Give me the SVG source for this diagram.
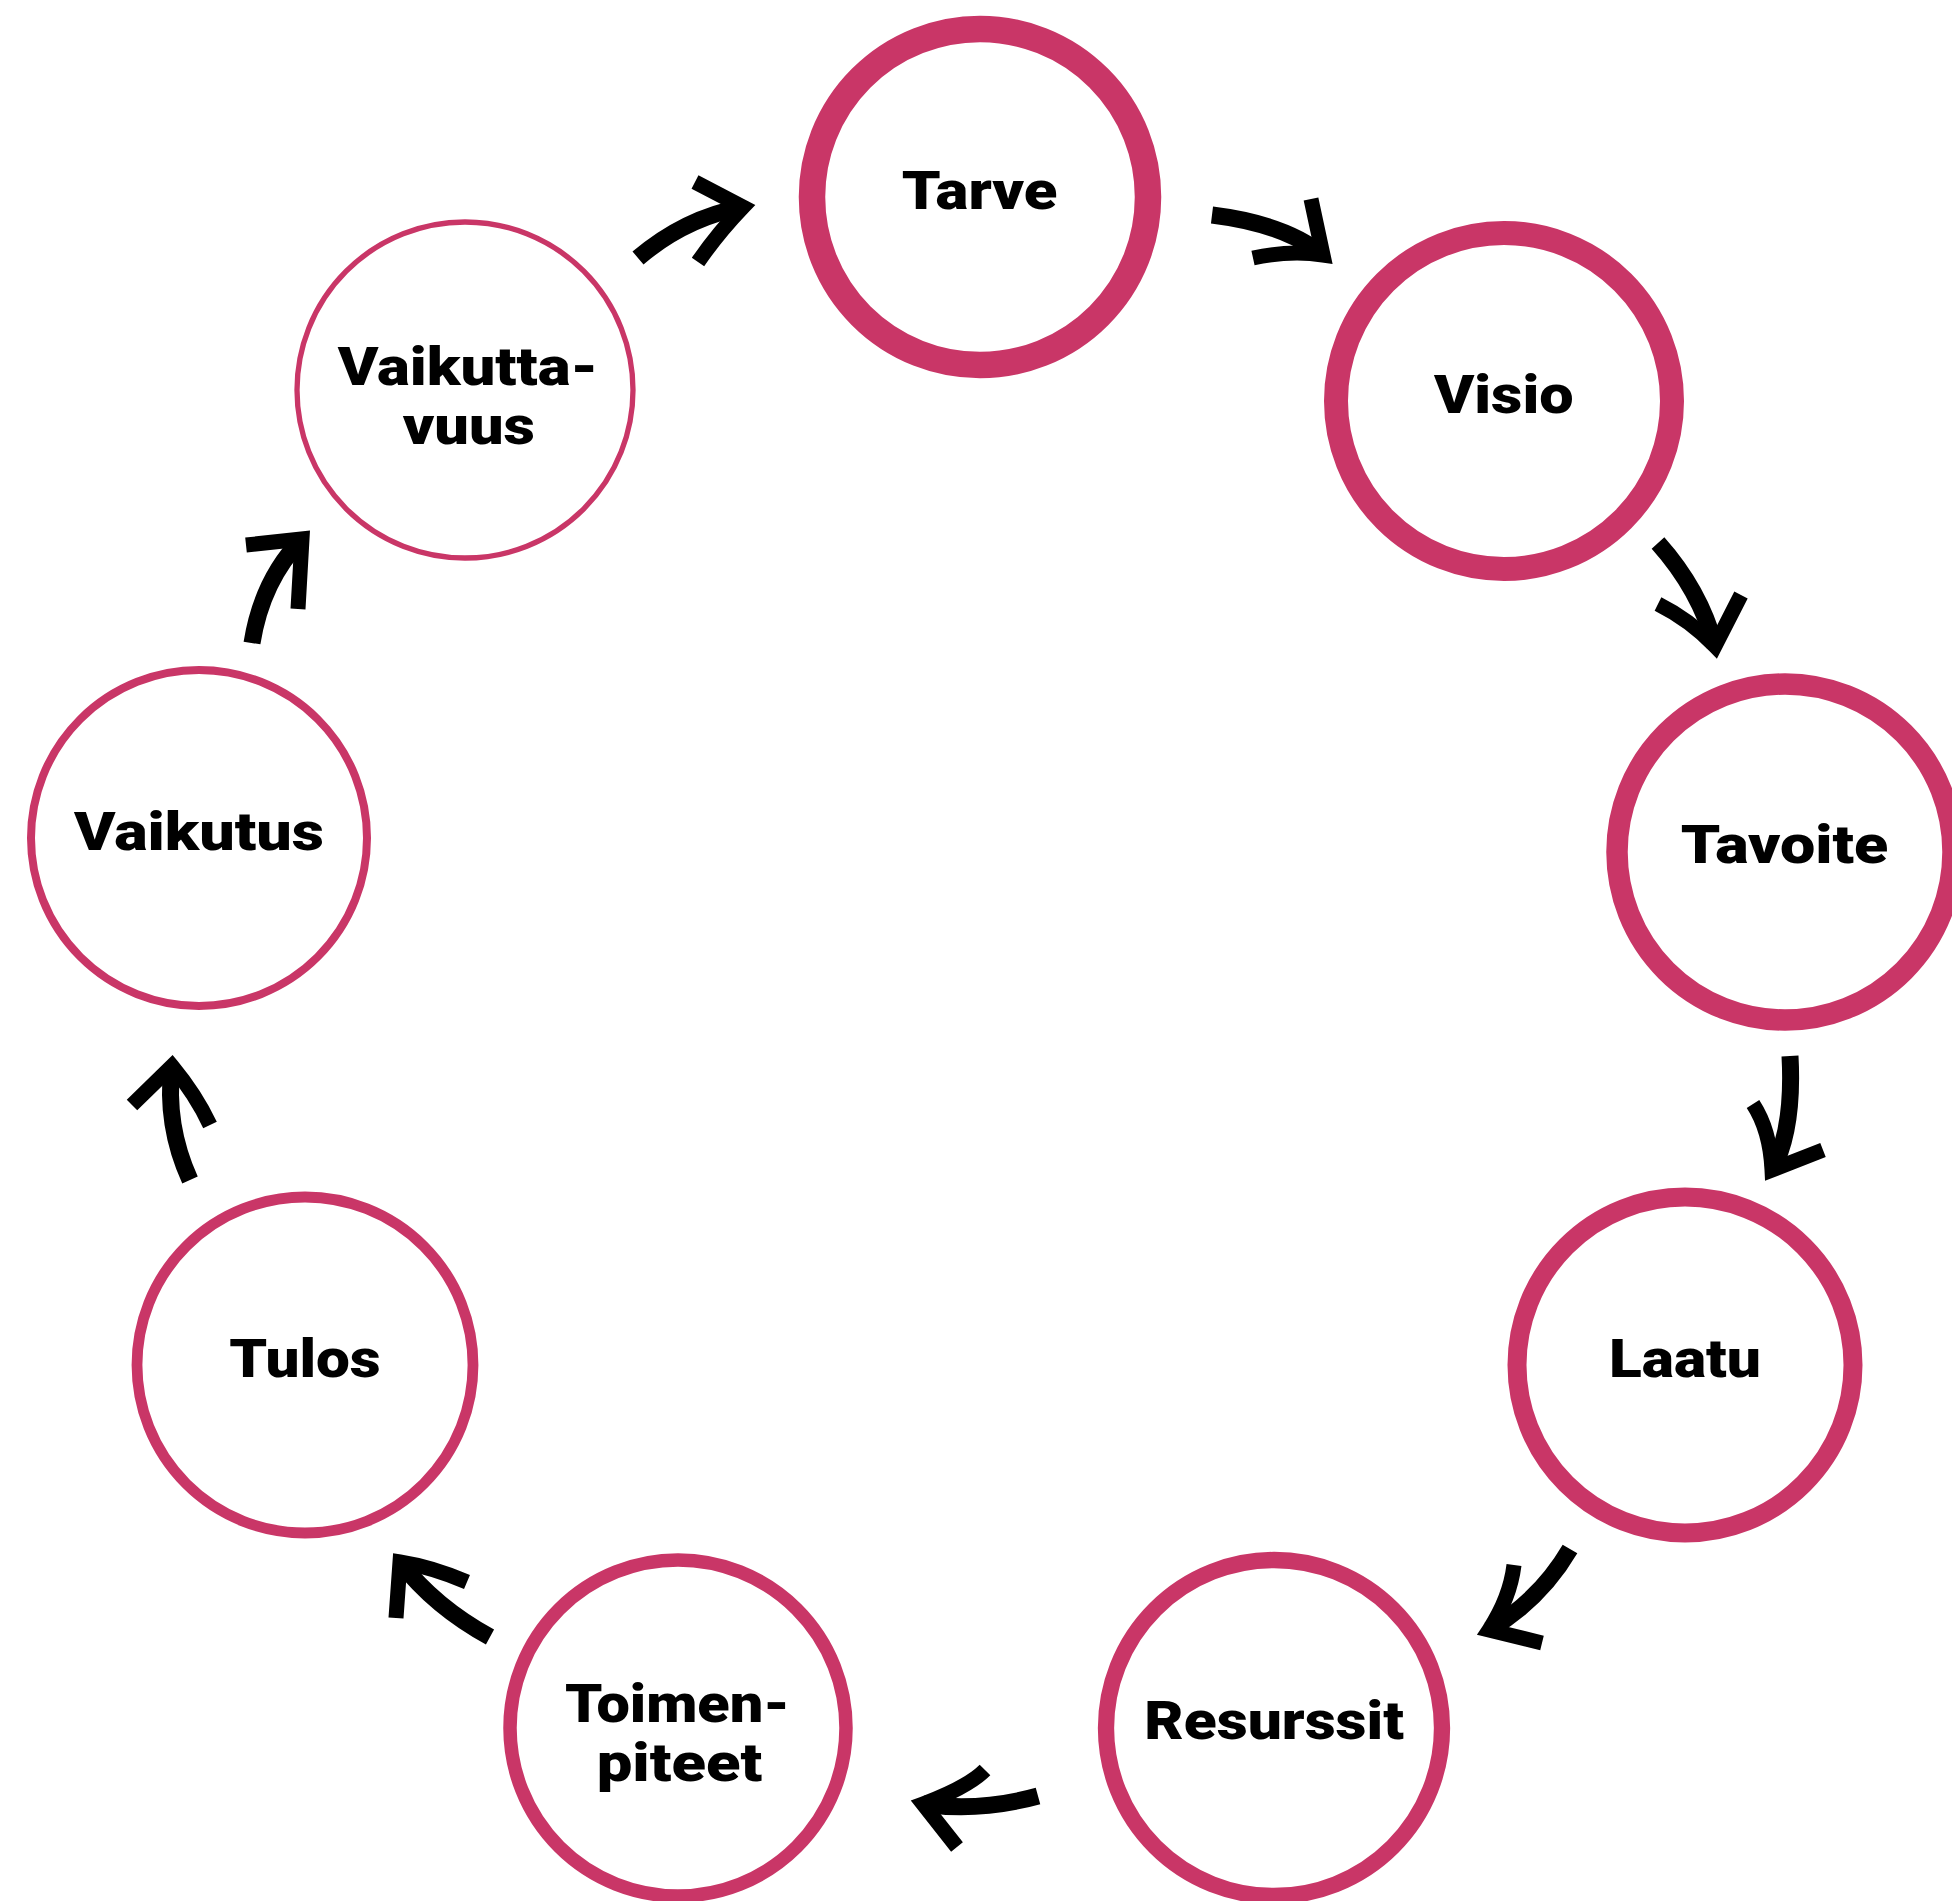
<svg xmlns="http://www.w3.org/2000/svg" width="1952" height="1901" viewBox="0 0 1952 1901">
<style>
.ring{fill:#ffffff;stroke:#C93667}
.lbl{font-family:"Roboto","Lato","Liberation Sans",sans-serif;font-weight:900;font-size:53px;fill:#000000}
.shaft{fill:none;stroke:#000000;stroke-width:17;stroke-linecap:butt}
.head{fill:none;stroke:#000000;stroke-width:15;stroke-linecap:butt;stroke-linejoin:miter;stroke-miterlimit:10}
</style>
<rect x="0" y="0" width="1952" height="1901" fill="#ffffff"/>
<g id="connectors">
  <g id="a-tarve-visio"><path class="shaft" d="M1212,215 Q1285,224 1323,255"/><path class="head" d="M1311,199 L1323,255 Q1290,250 1253,258"/></g>
  <g id="a-visio-tavoite"><path class="shaft" d="M1658,543 Q1700,590 1715,646"/><path class="head" d="M1741,595 L1715,646 Q1690,620 1658,604"/></g>
  <g id="a-tavoite-laatu"><path class="shaft" d="M1790,1056 Q1794,1130 1772,1170"/><path class="head" d="M1753,1104 Q1770,1130 1772,1170 L1823,1150"/></g>
  <g id="a-laatu-resurssit"><path class="shaft" d="M1570,1549 Q1540,1600 1489,1630"/><path class="head" d="M1514,1565 Q1510,1598 1489,1630 L1542,1643"/></g>
  <g id="a-resurssit-toimen"><path class="shaft" d="M1038,1796 Q980,1812 923,1804"/><path class="head" d="M985,1770 Q968,1787 923,1804 L957,1847"/></g>
  <g id="a-toimen-tulos"><path class="shaft" d="M490,1637 Q435,1607 400,1562"/><path class="head" d="M396,1618 L400,1562 Q432,1567 467,1582"/></g>
  <g id="a-tulos-vaikutus"><path class="shaft" d="M190,1180 Q165,1125 172,1066"/><path class="head" d="M132,1105 L172,1066 Q196,1095 210,1125"/></g>
  <g id="a-vaikutus-vaikuttavuus"><path class="shaft" d="M252,643 Q262,580 302,539"/><path class="head" d="M246,545 L302,539 Q300,575 298,609"/></g>
  <g id="a-vaikuttavuus-tarve"><path class="shaft" d="M638,258 Q685,218 743,207"/><path class="head" d="M695,182 L743,207 Q718,233 698,262"/></g>
</g>
<g id="n-tarve"><circle class="ring" cx="980" cy="197" r="168" stroke-width="26.5"/><text class="lbl" x="901.7" y="209" textLength="155.8" lengthAdjust="spacingAndGlyphs">Tarve</text></g>
<g id="n-visio"><circle class="ring" cx="1504" cy="401" r="168" stroke-width="24"/><text class="lbl" x="1433.9" y="412.7" textLength="139.7" lengthAdjust="spacingAndGlyphs">Visio</text></g>
<g id="n-tavoite"><circle class="ring" cx="1785" cy="852" r="168" stroke-width="21.5"/><text class="lbl" x="1680.7" y="863.3" textLength="207.6" lengthAdjust="spacingAndGlyphs">Tavoite</text></g>
<g id="n-laatu"><circle class="ring" cx="1685" cy="1365" r="168" stroke-width="19"/><text class="lbl" x="1609" y="1376.7" textLength="152" lengthAdjust="spacingAndGlyphs">Laatu</text></g>
<g id="n-resurssit"><circle class="ring" cx="1274" cy="1728" r="168" stroke-width="16.3"/><text class="lbl" x="1144.3" y="1739" textLength="259.7" lengthAdjust="spacingAndGlyphs">Resurssit</text></g>
<g id="n-toimenpiteet"><circle class="ring" cx="678" cy="1728" r="168" stroke-width="13.5"/><text class="lbl" x="565" y="1722.3" textLength="225" lengthAdjust="spacingAndGlyphs">Toimen-</text><text class="lbl" x="596.7" y="1780.7" textLength="165.6" lengthAdjust="spacingAndGlyphs">piteet</text></g>
<g id="n-tulos"><circle class="ring" cx="305" cy="1365" r="168" stroke-width="10.8"/><text class="lbl" x="229.3" y="1377.3" textLength="151.4" lengthAdjust="spacingAndGlyphs">Tulos</text></g>
<g id="n-vaikutus"><circle class="ring" cx="199" cy="838" r="168" stroke-width="8"/><text class="lbl" x="74" y="850" textLength="250" lengthAdjust="spacingAndGlyphs">Vaikutus</text></g>
<g id="n-vaikuttavuus"><circle class="ring" cx="465" cy="390" r="168" stroke-width="5.3"/><text class="lbl" x="337.7" y="385" textLength="260.6" lengthAdjust="spacingAndGlyphs">Vaikutta-</text><text class="lbl" x="402.7" y="444" textLength="132.3" lengthAdjust="spacingAndGlyphs">vuus</text></g>
</svg>
